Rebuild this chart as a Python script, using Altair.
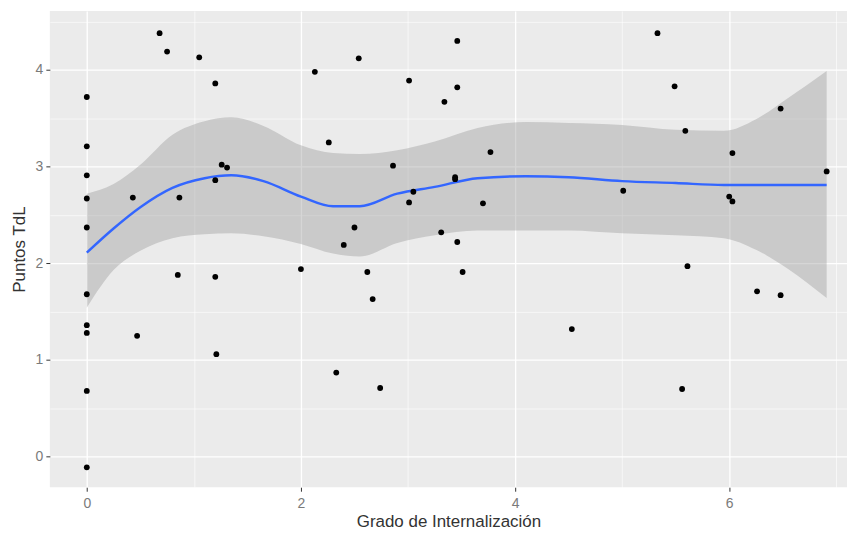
import altair as alt
import pandas as pd

# Scatter data
grado = [0, 0, 0, 0, 0, 0, 0, 0, 0, 0,
         0.43, 0.47, 0.68, 0.75, 0.85, 0.865, 1.05, 1.20, 1.20, 1.20,
         1.21, 1.26, 1.31, 2.00, 2.13, 2.26, 2.33, 2.40, 2.50, 2.54,
         2.62, 2.67, 2.74, 2.86, 3.01, 3.01, 3.05, 3.31, 3.34, 3.44,
         3.44, 3.46, 3.46, 3.46, 3.51, 3.70, 3.77, 4.53, 5.01, 5.33,
         5.49, 5.56, 5.59, 5.61, 6.00, 6.03, 6.03, 6.26, 6.48, 6.48, 6.91]
puntos = [3.72, 3.21, 2.91, 2.67, 2.37, 1.68, 1.36, 1.28, 0.68, -0.11,
          2.68, 1.25, 4.38, 4.19, 1.88, 2.68, 4.13, 3.86, 2.86, 1.86,
          1.06, 3.02, 2.99, 1.94, 3.98, 3.25, 0.87, 2.19, 2.37, 4.12,
          1.91, 1.63, 0.71, 3.01, 3.89, 2.63, 2.74, 2.32, 3.67, 2.89,
          2.87, 4.30, 3.82, 2.22, 1.91, 2.62, 3.15, 1.32, 2.75, 4.38,
          3.83, 0.70, 3.37, 1.97, 2.69, 2.64, 3.14, 1.71, 3.60, 1.67, 2.95]

# Smooth curve and confidence band
smooth_x = [0, 0.25, 0.5, 0.8, 1.1, 1.35, 1.65, 2.0, 2.3, 2.55, 2.9,
            3.25, 3.65, 4.1, 4.5, 5.0, 5.5, 5.95, 6.25, 6.55, 6.91]
smooth_fit = [2.11, 2.36, 2.58, 2.78, 2.88, 2.91, 2.85, 2.69, 2.59, 2.59, 2.72,
              2.79, 2.88, 2.90, 2.89, 2.85, 2.83, 2.81, 2.81, 2.81, 2.81]
smooth_upper = [2.72, 2.82, 3.02, 3.33, 3.47, 3.51, 3.42, 3.22, 3.14, 3.13, 3.17,
                3.26, 3.40, 3.46, 3.45, 3.43, 3.38, 3.37, 3.49, 3.71, 3.99]
smooth_lower = [1.54, 1.93, 2.13, 2.26, 2.30, 2.31, 2.28, 2.20, 2.10, 2.07, 2.21,
                2.29, 2.34, 2.34, 2.34, 2.31, 2.29, 2.26, 2.14, 1.94, 1.64]

x_ticks = [0, 1, 2, 3, 4, 5, 6, 7]
y_ticks = [0, 0.5, 1, 1.5, 2, 2.5, 3, 3.5, 4, 4.5]

pts = pd.DataFrame({"g": grado, "p": puntos})
sm = pd.DataFrame({"g": smooth_x, "fit": smooth_fit, "lo": smooth_lower, "hi": smooth_upper})

x_scale = alt.Scale(domain=[-0.345, 7.10], nice=False, zero=False)
y_scale = alt.Scale(domain=[-0.316, 4.61], nice=False, zero=False)

x_axis = alt.Axis(
    values=x_ticks,
    labelExpr="datum.value % 2 === 0 ? format(datum.value, 'd') : ''",
    grid=True, gridColor="white",
    gridWidth={"condition": {"test": "datum.value % 2 === 0", "value": 1.3}, "value": 0.6},
    tickOpacity={"condition": {"test": "datum.value % 2 === 0", "value": 1}, "value": 0},
    tickColor="#333333", tickSize=4, domain=False,
    labelColor="#7a7a7a", labelFontSize=14, labelPadding=5, labelFont="Liberation Sans",
    title="Grado de Internalización", titleColor="#333333", titleFontSize=17,
    titleFont="Liberation Sans", titleFontWeight="normal", titlePadding=3,
)
y_axis = alt.Axis(
    values=y_ticks,
    labelExpr="datum.value % 1 === 0 ? format(datum.value, 'd') : ''",
    grid=True, gridColor="white",
    gridWidth={"condition": {"test": "datum.value % 1 === 0", "value": 1.3}, "value": 0.6},
    tickOpacity={"condition": {"test": "datum.value % 1 === 0", "value": 1}, "value": 0},
    tickColor="#333333", tickSize=4, domain=False,
    labelColor="#7a7a7a", labelFontSize=14, labelPadding=3, labelFont="Liberation Sans",
    title="Puntos TdL", titleColor="#333333", titleFontSize=17,
    titleFont="Liberation Sans", titleFontWeight="normal", titlePadding=7,
)

band = alt.Chart(sm).mark_area(color="#999999", opacity=0.4, interpolate="monotone").encode(
    x=alt.X("g:Q", scale=x_scale, axis=x_axis),
    y=alt.Y("lo:Q", scale=y_scale, axis=y_axis),
    y2="hi:Q",
)
line = alt.Chart(sm).mark_line(color="#3366FF", strokeWidth=2.4, interpolate="monotone").encode(
    x=alt.X("g:Q", scale=x_scale),
    y=alt.Y("fit:Q", scale=y_scale),
)
points = alt.Chart(pts).mark_circle(color="black", size=34, opacity=1).encode(
    x=alt.X("g:Q", scale=x_scale),
    y=alt.Y("p:Q", scale=y_scale),
)

chart = alt.layer(band, line, points).properties(
    width=800, height=478,
    autosize=alt.AutoSizeParams(type="none"),
    padding={"left": 42, "top": 2, "right": 0, "bottom": 45},
).configure_view(fill="#EBEBEB", stroke=None)

chart.save("out.html", embed_options={"renderer": "svg", "actions": False})
